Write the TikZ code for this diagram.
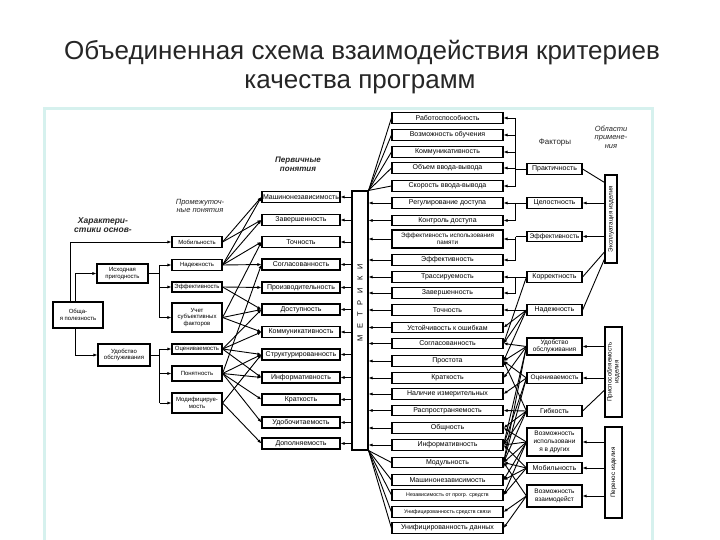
\documentclass[tikz,border=0pt]{standalone}
\usepackage{fontspec}
\setmainfont{Liberation Sans}
\usetikzlibrary{arrows.meta,calc}
\newcommand\bxf{\fontsize{6}{6.6}\selectfont}
\newcommand\bxm{\fontsize{7}{7.6}\selectfont}
\newcommand\bxs{\fontsize{5.3}{5.8}\selectfont}
\definecolor{framec}{HTML}{D6F1EE}
\begin{document}
\begin{tikzpicture}[x=1pt,y=-1pt,
 bx/.style={draw, line width=1.15pt, fill=white, align=center, inner sep=0pt, font=\bxf},
 bm/.style={bx, font=\bxm},
 ln/.style={line width=0.9pt},
 ar/.style={line width=0.9pt,-{Latex[length=4pt,width=3.2pt]}},
 hd/.style={align=center, inner sep=0pt, text=black!85},
 ttl/.style={font=\fontsize{26}{29}\selectfont, text=black!85, inner sep=0pt},
]
\useasboundingbox (0,0) rectangle (720,540);
\fill[white] (0,0) rectangle (720,540);
\draw[framec, line width=3pt, fill=white] (44,109) rectangle (652,542);

% title
\node[ttl] (t1) at (362,53) {Объединенная схема взаимодействия критериев};
\node[ttl] (t2) at (360,84) {качества программ};

% headings
\node[hd, font=\fontsize{8.5}{9.5}\selectfont\bfseries\itshape] (hc) at (103,225) {Характери-\\стики основ-};
\node[hd, font=\fontsize{7.5}{8.5}\selectfont\itshape] (hi) at (200,206) {Промежуточ-\\ные понятия};
\node[hd, font=\fontsize{8}{9}\selectfont\bfseries\itshape] (hp) at (298,164) {Первичные\\понятия};
\node[hd, font=\fontsize{8}{9}\selectfont] (hf) at (555,143) {Факторы};
\node[hd, font=\fontsize{7.5}{8.5}\selectfont\itshape] (ha) at (611,137) {Области\\примене-\\ния};

% left
\node[bx,minimum width=50pt,minimum height=26pt] (op) at (78,315) {Обща-\\я полезность};
\node[bx,minimum width=51pt,minimum height=19pt] (ip) at (122.5,273.5) {Исходная\\пригодность};
\node[bx,minimum width=52pt,minimum height=22pt] (uo) at (124,355) {Удобство\\обслуживания};

\node[bx,minimum width=50pt,minimum height=11pt] (mob) at (197,242) {Мобильность};
\node[bx,minimum width=50pt,minimum height=11pt] (nad) at (197,265) {Надежность};
\node[bx,minimum width=50pt,minimum height=10pt] (eff) at (197,287) {Эффективность};
\node[bx,minimum width=50pt,minimum height=29pt] (usf) at (197,317.5) {Учет\\субъективных\\факторов};
\node[bx,minimum width=50pt,minimum height=10pt] (ots) at (197,349) {Оцениваемость};
\node[bx,minimum width=50pt,minimum height=15pt] (pon) at (197,373.5) {Понятность};
\node[bx,minimum width=50pt,minimum height=20pt] (mod) at (197,403) {Модифицируе-\\мость};

% primary
\foreach \n/\y/\t in {1/197/Машинонезависимость, 2/220/Завершенность, 3/242/Точность,
  4/264.5/Согласованность, 5/287.5/Производительность, 6/309.5/Доступность,
  7/332/Коммуникативность, 8/354.5/Структурированность, 9/377.5/Информативность,
  10/399.5/Краткость, 11/422.5/Удобочитаемость, 12/443.5/Дополняемость}
  \node[bm,minimum width=78pt,minimum height=11pt] (p\n) at (301,\y) {\t};

% metrics
\node[bx,minimum width=16pt,minimum height=259pt] (met) at (360,320.5) {};
\node[rotate=90,inner sep=0pt,font=\fontsize{7.5}{8}\selectfont] (metl) at (360,303)
  {М\hspace{7pt}Е\hspace{7pt}Т\hspace{7pt}Р\hspace{7pt}И\hspace{7pt}К\hspace{7pt}И};

% middle column
\foreach \n/\y/\t in {0/118/Работоспособность, 1/135/Возможность обучения, 2/152/Коммуникативность,
  3/168/Объем ввода-вывода, 4/186/Скорость ввода-вывода, 5/203/Регулирование доступа,
  6/220.5/Контроль доступа, 8/260/Эффективность, 9/277/Трассируемость,
  10/293/Завершенность, 11/310/Точность, 12/327.5/Устойчивость к ошибкам,
  13/343.5/Согласованность, 14/361/Простота, 15/378/Краткость,
  16/394/Наличие измерительных, 17/410.5/Распространяемость, 18/428/Общность,
  19/445/Информативность, 20/462.5/Модульность, 21/480/Машинонезависимость,
  24/528/Унифицированность данных}
  \node[bm,minimum width=111pt,minimum height=10.5pt] (m\n) at (447.5,\y) {\t};
\node[bm,minimum width=111pt,minimum height=18pt,font=\fontsize{6.3}{6.9}\selectfont] (m7) at (447.5,239) {Эффективность использования\\памяти};
\node[bx,minimum width=111pt,minimum height=10.5pt,font=\bxs] (m22) at (447.5,495) {Независимость от прогр. средств};
\node[bx,minimum width=111pt,minimum height=10.5pt,font=\bxs] (m23) at (447.5,512) {Унифицированность средств связи};

% factors
\node[bm,minimum width=55pt,minimum height=10.5pt] (f1) at (554.5,169) {Практичность};
\node[bm,minimum width=55pt,minimum height=10.5pt] (f2) at (554.5,203) {Целостность};
\node[bm,minimum width=55pt,minimum height=10.5pt,font=\fontsize{6.6}{7}\selectfont] (f3) at (554.5,236.5) {Эффективность};
\node[bm,minimum width=55pt,minimum height=10.5pt] (f4) at (554.5,277) {Корректность};
\node[bm,minimum width=55pt,minimum height=10.5pt] (f5) at (554.5,310) {Надежность};
\node[bm,minimum width=55pt,minimum height=17pt,font=\fontsize{6.5}{7.2}\selectfont] (f6) at (554.5,346.5) {Удобство\\обслуживания};
\node[bm,minimum width=55pt,minimum height=10.5pt,font=\fontsize{6.5}{7}\selectfont] (f7) at (554.5,378) {Оцениваемость};
\node[bm,minimum width=55pt,minimum height=10.5pt] (f8) at (554.5,411) {Гибкость};
\node[bm,minimum width=55pt,minimum height=28pt,font=\fontsize{6.5}{7.6}\selectfont] (f9) at (554.5,442) {Возможность\\использовани\\я в других};
\node[bm,minimum width=55pt,minimum height=10.5pt] (f10) at (554.5,468) {Мобильность};
\node[bm,minimum width=55pt,minimum height=22pt,font=\fontsize{6.5}{7.6}\selectfont] (f11) at (554.5,496) {Возможность\\взаимодейст};

% areas
\node[bx,rotate=90,minimum width=88pt,minimum height=12pt,font=\fontsize{6.3}{7}\selectfont] (a1) at (611,219) {Эксплуатация изделия};
\node[bx,rotate=90,minimum width=90pt,minimum height=17pt,font=\fontsize{6.3}{7}\selectfont] (a2) at (613.5,372) {Приспособляемость\\изделия};
\node[bx,rotate=90,minimum width=91pt,minimum height=17pt,font=\fontsize{6.3}{7}\selectfont] (a3) at (613.5,472.5) {Перенос изделия};

% ---- connectors, left
\draw[ar] ([xshift=-8pt]op.north) |- (mob.west);
\draw[ar] ([xshift=-3pt]op.north) |- (ip.west);
\draw[ar] ([xshift=-3pt]op.south) |- (uo.west);
\coordinate (bi) at ($(ip.east)+(11,0)$);
\coordinate (bu) at ($(uo.east)+(9,0)$);
\draw[ln] (ip.east) -- (bi);
\draw[ln] (bi|-nad.west) -- (bi|-usf.west);
\foreach \t in {nad,eff,usf} \draw[ar] (bi|-\t.west) -- (\t.west);
\draw[ln] (uo.east) -- (bu);
\draw[ln] (bu|-ots.west) -- (bu|-mod.west);
\foreach \t in {ots,pon,mod} \draw[ar] (bu|-\t.west) -- (\t.west);

% intermediate -> primary
\foreach \s/\k in {mob/1, mob/2, nad/1, nad/2, nad/3, nad/4, eff/5, eff/6,
  usf/3, usf/6, usf/7, ots/6, ots/7, ots/8, ots/9,
  pon/4, pon/8, pon/9, pon/10, pon/11, mod/8, mod/12}
  \draw[ar] (\s.east) -- (p\k.west);

% metrics -> primary
\foreach \k in {1,...,12} \draw[ar] (met.west|-p\k.east) -- (p\k.east);

% middle -> metrics
\foreach \k in {0,...,4} \draw[ln] (m\k.west) -- (met.north east);
\foreach \k in {5,...,19} \draw[ar] (m\k.west) -- (met.east|-m\k.west);
\foreach \k in {20,...,24} \draw[ln] (m\k.west) -- (met.south east);

% factors -> middle
\coordinate (bx1) at ($(m0.east)+(12,0)$);
\draw[ln] (f1.west) -- (bx1|-f1.west);
\draw[ln] (bx1|-m0.east) -- (bx1|-m4.east);
\foreach \k in {0,...,4} \draw[ar] (bx1|-m\k.east) -- (m\k.east);
\draw[ln] (f2.west) -- (bx1|-f2.west);
\draw[ln] (bx1|-m5.east) -- (bx1|-m6.east);
\foreach \k in {5,6} \draw[ar] (bx1|-m\k.east) -- (m\k.east);
\draw[ln] (f3.west) -- (bx1|-f3.west);
\draw[ln] (bx1|-f3.west) -- (bx1|-m8.east);
\foreach \k in {7,8} \draw[ar] (bx1|-m\k.east) -- (m\k.east);
\draw[ln] (f4.west) -- (bx1|-f4.west);
\draw[ln] (bx1|-m9.east) -- (bx1|-m10.east);
\foreach \k in {9,10} \draw[ar] (bx1|-m\k.east) -- (m\k.east);
\foreach \s/\k in {f4/13, f5/11, f5/12, f5/13, f5/14,
  f6/13, f6/14, f6/15, f6/19, f6/20, f7/14, f7/16, f7/19, f7/20,
  f8/14, f8/17, f8/18, f8/19, f8/20, f9/18, f9/19, f9/20, f9/21, f9/22,
  f10/19, f10/20, f10/21, f10/22, f11/20, f11/23, f11/24}
  \draw[ar] (\s.west) -- (m\k.east);

% areas -> factors
\draw[ln] ($(a1.north east)!0.09!(a1.north west)$) -- (f1.east);
\draw[ar] (a1.north|-f2.east) -- (f2.east);
\draw[ar] (a1.north|-f3.east) -- (f3.east);
\draw[ln] ($(a1.north east)!0.87!(a1.north west)$) -- (f4.east);
\draw[ln] ($(a1.north east)!0.95!(a1.north west)$) -- (f5.east);
\draw[ar] (a2.north|-f6.east) -- (f6.east);
\draw[ar] (a2.north|-f7.east) -- (f7.east);
\draw[ln] ($(a2.north east)!0.7!(a2.north west)$) -- (f8.east);
\draw[ar] (a3.north|-f9.east) -- (f9.east);
\draw[ar] (a3.north|-f10.east) -- (f10.east);
\draw[ar] (a3.north|-f11.east) -- (f11.east);
\end{tikzpicture}
\end{document}
